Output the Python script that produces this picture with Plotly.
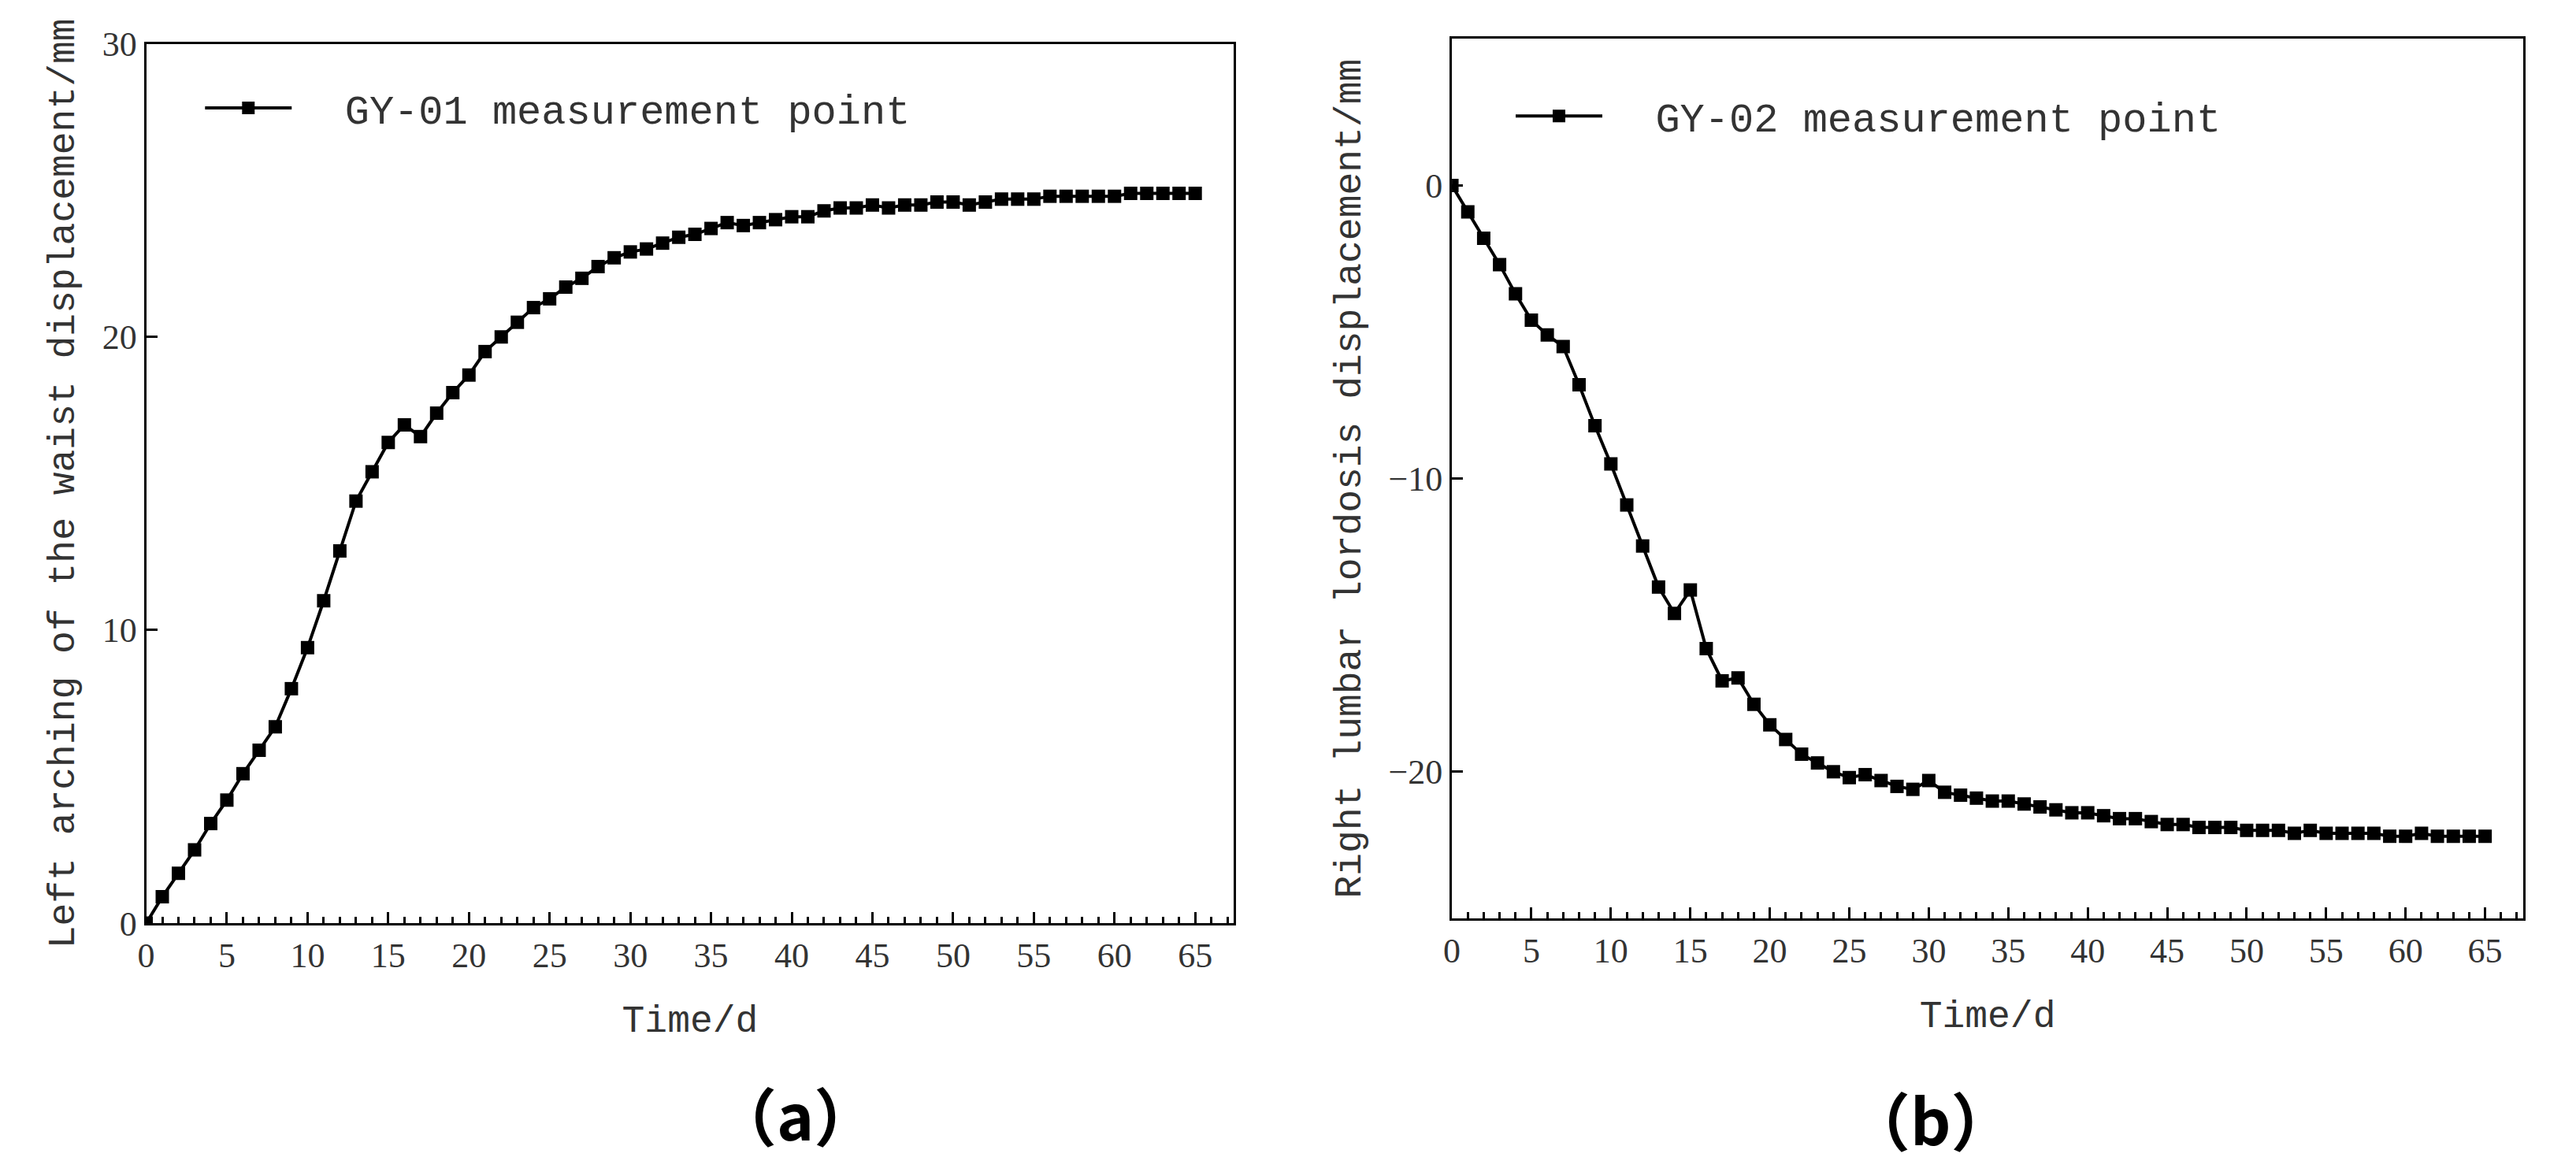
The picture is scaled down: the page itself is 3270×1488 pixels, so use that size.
import plotly.graph_objects as go

days = list(range(66))
gy01 = [0, 0.9, 1.7, 2.5, 3.4, 4.2, 5.1, 5.9, 6.7, 8.0, 9.4, 11.0, 12.7, 14.4, 15.4, 16.4, 17.0, 16.6, 17.4, 18.1,
        18.7, 19.5, 20.0, 20.5, 21.0, 21.3, 21.7, 22.0, 22.4, 22.7, 22.9, 23.0, 23.2, 23.4, 23.5, 23.7, 23.9, 23.8, 23.9, 24.0,
        24.1, 24.1, 24.3, 24.4, 24.4, 24.5, 24.4, 24.5, 24.5, 24.6, 24.6, 24.5, 24.6, 24.7, 24.7, 24.7, 24.8, 24.8, 24.8, 24.8,
        24.8, 24.9, 24.9, 24.9, 24.9, 24.9]
gy02 = [0, -0.9, -1.8, -2.7, -3.7, -4.6, -5.1, -5.5, -6.8, -8.2, -9.5, -10.9, -12.3, -13.7, -14.6, -13.8, -15.8, -16.9, -16.8, -17.7,
        -18.4, -18.9, -19.4, -19.7, -20.0, -20.2, -20.1, -20.3, -20.5, -20.6, -20.3, -20.7, -20.8, -20.9, -21.0, -21.0, -21.1, -21.2, -21.3, -21.4,
        -21.4, -21.5, -21.6, -21.6, -21.7, -21.8, -21.8, -21.9, -21.9, -21.9, -22.0, -22.0, -22.0, -22.1, -22.0, -22.1, -22.1, -22.1, -22.1, -22.2,
        -22.2, -22.1, -22.2, -22.2, -22.2, -22.2]

MONO = "Liberation Mono"
SERIF = "Liberation Serif"
fig = go.Figure()
fig.add_trace(go.Scatter(x=days, y=gy01, mode="lines+markers", name="  GY-01 measurement point", showlegend=True,
                         line=dict(color="black", width=4), marker=dict(symbol="square", size=17, color="black"),
                         xaxis="x", yaxis="y", legend="legend"))
fig.add_trace(go.Scatter(x=days, y=gy02, mode="lines+markers", name="  GY-02 measurement point", showlegend=True,
                         line=dict(color="black", width=4), marker=dict(symbol="square", size=17, color="black"),
                         xaxis="x2", yaxis="y2", legend="legend2"))

ax = dict(showline=True, mirror=True, linecolor="black", linewidth=3, ticks="inside", ticklen=14, tickwidth=3,
          tickcolor="black", showgrid=False, zeroline=False, tickfont=dict(family=SERIF, size=44, color="#333"))
xax = dict(ax, range=[0, 67.4], dtick=5, minor=dict(ticks="inside", ticklen=8, tickwidth=3, dtick=1, tickcolor="black"),
           title=dict(text="Time/d", font=dict(family=MONO, size=48, color="#333"), standoff=40))
fig.update_layout(
    width=3270, height=1488, margin=dict(l=0, r=0, t=0, b=0), plot_bgcolor="white", paper_bgcolor="white",
    showlegend=True,
    xaxis=dict(xax, domain=[0.0511, 0.4748], anchor="y"),
    yaxis=dict(ax, domain=[0.2077, 0.9836], range=[0, 30], dtick=10, anchor="x",
               title=dict(text="Left arching of the waist displacement/mm", font=dict(family=MONO, size=48, color="#333"), standoff=20)),
    xaxis2=dict(xax, domain=[0.5597, 0.977], anchor="y2"),
    yaxis2=dict(ax, domain=[0.212, 0.988], range=[-25, 5], dtick=10, anchor="x2",
                title=dict(text="Right lumbar lordosis displacement/mm", font=dict(family=MONO, size=48, color="#333"), standoff=20)),
    legend=dict(x=0.0725, y=0.955, xanchor="left", yanchor="top", itemwidth=110, bgcolor="rgba(0,0,0,0)",
                font=dict(family=MONO, size=52, color="#333")),
    legend2=dict(x=0.583, y=0.948, xanchor="left", yanchor="top", itemwidth=110, bgcolor="rgba(0,0,0,0)",
                 font=dict(family=MONO, size=52, color="#333")),
    annotations=[
        dict(text="<b>（a）</b>", x=0.2715, y=0.04, xref="paper", yref="paper", showarrow=False, yanchor="middle",
             font=dict(family="Noto Sans CJK SC, Liberation Serif", size=80, color="black")),
        dict(text="<b>（b）</b>", x=0.7795, y=0.036, xref="paper", yref="paper", showarrow=False, yanchor="middle",
             font=dict(family="Noto Sans CJK SC, Liberation Serif", size=80, color="black")),
    ],
)
fig.write_html("out.html")
